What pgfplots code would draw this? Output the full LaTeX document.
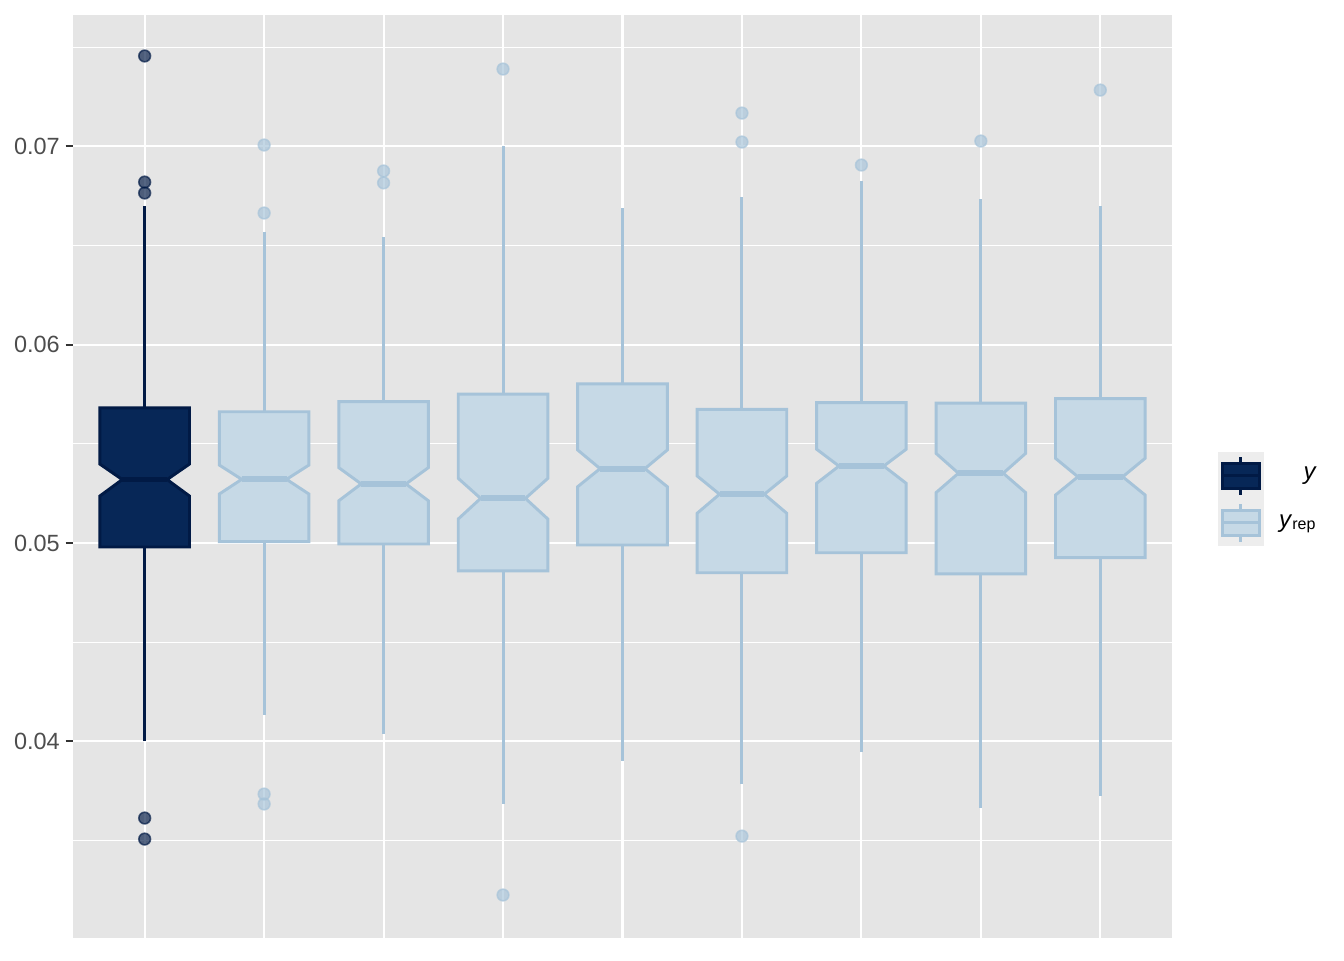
\documentclass[border=0pt]{standalone}
\usepackage{fontspec}
\setmainfont{Liberation Sans}
\usepackage{pgfplots}
\pgfplotsset{compat=1.18}
\definecolor{panelbg}{HTML}{E5E5E5}
\definecolor{obsfill}{HTML}{072757}
\definecolor{obsline}{HTML}{011A45}
\definecolor{repfill}{HTML}{C6D9E6}
\definecolor{repline}{HTML}{A6C3D9}
\definecolor{keybg}{HTML}{EDEDED}
\definecolor{ticktext}{HTML}{4D4D4D}
\definecolor{tickline}{HTML}{333333}
\tikzset{
  obswhisk/.style={draw=obsline, line width=1.1pt, mark=none},
  obsbox/.style={draw=obsline, fill=obsfill, line width=1.1pt, line join=miter, mark=none},
  obsmed/.style={draw=obsline, line width=2.2pt, mark=none},
  repwhisk/.style={draw=repline, line width=1.1pt, mark=none},
  repbox/.style={draw=repline, fill=repfill, line width=1.1pt, line join=miter, mark=none},
  repmed/.style={draw=repline, line width=2.2pt, mark=none},
}
% x, lower whisker, q1, notch low, median, notch high, q3, upper whisker, style
\newcommand{\nbox}[9]{%
  \pgfmathsetmacro\xa{#1-0.375}%
  \pgfmathsetmacro\xb{#1+0.375}%
  \pgfmathsetmacro\xc{#1-0.1875}%
  \pgfmathsetmacro\xd{#1+0.1875}%
  \edef\tmp{%
    \noexpand\addplot[#9whisk, forget plot] coordinates {(#1,#2) (#1,#3)};
    \noexpand\addplot[#9whisk, forget plot] coordinates {(#1,#7) (#1,#8)};
    \noexpand\addplot[#9box, forget plot] coordinates {(\xa,#3) (\xb,#3) (\xb,#4) (\xd,#5) (\xb,#6) (\xb,#7) (\xa,#7) (\xa,#6) (\xc,#5) (\xa,#4)} --cycle;
    \noexpand\addplot[#9med, forget plot] coordinates {(\xc,#5) (\xd,#5)};
  }\tmp}
\begin{document}
\begin{tikzpicture}
\path[use as bounding box] (0pt,0pt) rectangle (504pt,360pt);
\begin{axis}[
  at={(27.375pt,8.25pt)}, anchor=south west,
  scale only axis, width=412.125pt, height=346.125pt,
  xmin=0.4, xmax=9.6, ymin=0.030081, ymax=0.076626,
  axis background/.style={fill=panelbg},
  axis line style={draw=none},
  xtick={1,2,3,4,5,6,7,8,9}, xticklabels={},
  ytick={0.04,0.05,0.06,0.07}, yticklabels={0.04,0.05,0.06,0.07},
  minor ytick={0.035,0.045,0.055,0.065,0.075},
  grid=both,
  major grid style={white, line width=0.8pt},
  minor grid style={white, line width=0.45pt},
  ytick pos=left, tick align=outside,
  major tick length=2.75pt, minor tick length=0pt,
  every x tick/.style={draw=none},
  every y tick/.style={draw=tickline, line width=0.8pt},
  yticklabel style={font=\fontsize{8.8}{10}\selectfont, text=ticktext, inner sep=0pt, xshift=-2pt},
  scaled y ticks=false,
  clip=false,
  legend style={at={(1,0.5)}, anchor=west, xshift=17pt, yshift=-8.5pt,
    draw=none, fill=none, inner sep=0pt, row sep=0pt, column sep=0pt,
    nodes={inner sep=0pt, font=\fontsize{9}{10}\selectfont},
    /tikz/every odd column/.append style={column sep=5.7pt}},
  legend cell align=right,
]
\addlegendimage{legend image code/.code={
  \fill[keybg] (0pt,-8.625pt) rectangle (16.9pt,8.625pt);
  \draw[obsline, line width=1.1pt] (8.45pt,-7.1pt) -- (8.45pt,7.1pt);
  \filldraw[fill=obsfill, draw=obsline, line width=1.1pt] (1.6pt,-4.7pt) rectangle (15.3pt,4.7pt);
  \draw[obsline, line width=1.1pt] (1.6pt,0pt) -- (15.3pt,0pt);
}}
\addlegendentry{\textit{y}}
\addlegendimage{legend image code/.code={
  \fill[keybg] (0pt,-8.625pt) rectangle (16.9pt,8.625pt);
  \draw[repline, line width=1.1pt] (8.45pt,-7.1pt) -- (8.45pt,7.1pt);
  \filldraw[fill=repfill, draw=repline, line width=1.1pt] (1.6pt,-4.7pt) rectangle (15.3pt,4.7pt);
  \draw[repline, line width=1.1pt] (1.6pt,0pt) -- (15.3pt,0pt);
}}
\addlegendentry{\textit{y}\textsubscript{rep}}

\nbox{1}{0.04001}{0.04980}{0.05237}{0.05320}{0.05398}{0.05681}{0.06700}{obs}
\nbox{2}{0.04133}{0.05007}{0.05247}{0.05321}{0.05393}{0.05662}{0.06568}{rep}
\nbox{3}{0.04037}{0.04995}{0.05213}{0.05298}{0.05380}{0.05713}{0.06543}{rep}
\nbox{4}{0.03684}{0.04859}{0.05121}{0.05225}{0.05326}{0.05751}{0.07000}{rep}
\nbox{5}{0.03901}{0.04990}{0.05284}{0.05375}{0.05469}{0.05802}{0.06689}{rep}
\nbox{6}{0.03785}{0.04850}{0.05150}{0.05246}{0.05338}{0.05674}{0.06745}{rep}
\nbox{7}{0.03946}{0.04951}{0.05301}{0.05388}{0.05473}{0.05708}{0.06826}{rep}
\nbox{8}{0.03664}{0.04844}{0.05254}{0.05352}{0.05452}{0.05705}{0.06735}{rep}
\nbox{9}{0.03724}{0.04926}{0.05242}{0.05334}{0.05427}{0.05728}{0.06700}{rep}

\addplot[only marks, mark=*, mark size=2.2pt, forget plot,
  mark options={fill=obsline, draw=obsline, fill opacity=0.667, draw opacity=0.667, line width=0.6pt}]
  coordinates {(1,0.07456) (1,0.06820) (1,0.06765) (1,0.03613) (1,0.03507)};
\addplot[only marks, mark=*, mark size=2.2pt, forget plot,
  mark options={fill=repline, draw=repline, fill opacity=0.667, draw opacity=0.667, line width=0.6pt}]
  coordinates {(2,0.07007) (2,0.06664) (2,0.03734) (2,0.03684) (3,0.06876) (3,0.06816)
    (4,0.07390) (4,0.03225) (6,0.07168) (6,0.07022) (6,0.03522) (7,0.06906) (8,0.07027) (9,0.07284)};
\end{axis}
\end{tikzpicture}
\end{document}
